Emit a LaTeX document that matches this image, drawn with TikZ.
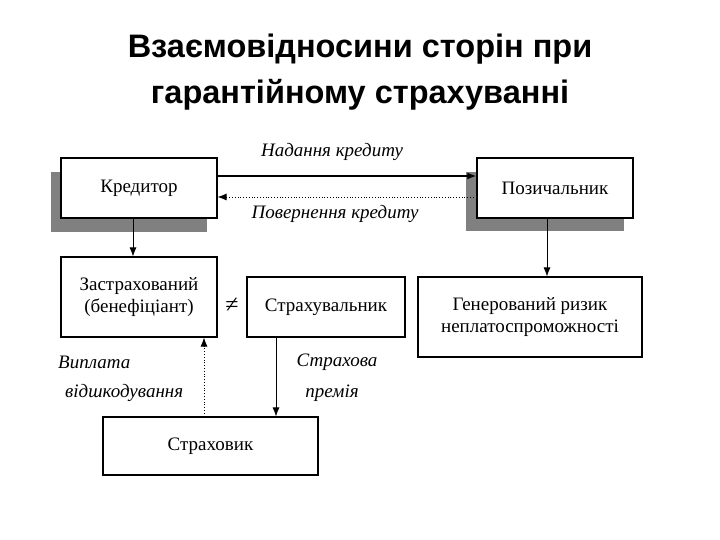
\documentclass[tikz,border=0pt]{standalone}
\usepackage{fontspec}
\setmainfont{Liberation Serif}
\newfontfamily\titlefont{Liberation Sans}
\usetikzlibrary{arrows.meta,positioning}
\begin{document}
\begin{tikzpicture}[x=1pt,y=-1pt,
  box/.style={draw=black,line width=1.2pt,fill=white,inner sep=0pt,font=\fontsize{19}{22}\selectfont,align=center},
  lab/.style={font=\fontsize{19}{22}\selectfont\itshape,inner sep=0pt},
  arr/.style={-{Latex[length=9pt,width=7pt]},line width=0.8pt},
  darr/.style={-{Latex[length=9pt,width=7pt]},line width=0.8pt,dotted}]
\useasboundingbox (0,0) rectangle (720,540);
% title
\node[font=\titlefont\bfseries\fontsize{32.5}{46}\selectfont,align=center] (title) at (360,72) {Взаємовідносини сторін при\\гарантійному страхуванні};
% shadows
\fill[black!50] (51,172) rectangle (207,232);
\fill[black!50] (466,172) rectangle (624,231);
% boxes
\node[box,minimum width=156pt,minimum height=60pt] (kred) at (139,188) {Кредитор};
\node[box,minimum width=156pt,minimum height=60pt] (poz) at (555,188) {Позичальник};
\node[box,minimum width=156pt,minimum height=80pt] (zastr) at (139,297) {Застрахований\\ (бенефіціант)};
\node[box,minimum width=158pt,minimum height=60pt] (strv) at (326,307) {Страхувальник};
\node[box,minimum width=224pt,minimum height=80pt] (gen) at (530,317) {Генерований ризик\\неплатоспроможності};
\node[box,minimum width=215pt,minimum height=58pt] (strk) at (210.5,446) {Страховик};
\node[font=\fontsize{24}{24}\selectfont,inner sep=0pt] (neq) at (232,305) {≠};
% connectors
\draw[arr,line width=1.6pt] (kred.east |- 0,176) -- (poz.west |- 0,176);
\draw[darr] (poz.west |- 0,197) -- (kred.east |- 0,197);
\draw[arr] (kred.south -| 133,0) -- (zastr.north -| 133,0);
\draw[arr] (poz.south -| 547,0) -- (gen.north -| 547,0);
\draw[darr] (strk.north -| 204,0) -- (zastr.south -| 204,0);
\draw[arr] (strv.south -| 276,0) -- (strk.north -| 276,0);
% labels
\node[lab] (l1) at (332,152) {Надання кредиту};
\node[lab] (l2) at (335,214) {Повернення кредиту};
\node[lab,anchor=west] (l3) at (58,362) {Виплата};
\node[lab,anchor=west] (l4) at (65,393) {відшкодування};
\node[lab] (l5) at (337,362) {Страхова};
\node[lab] (l6) at (332,393) {премія};
\end{tikzpicture}
\end{document}
